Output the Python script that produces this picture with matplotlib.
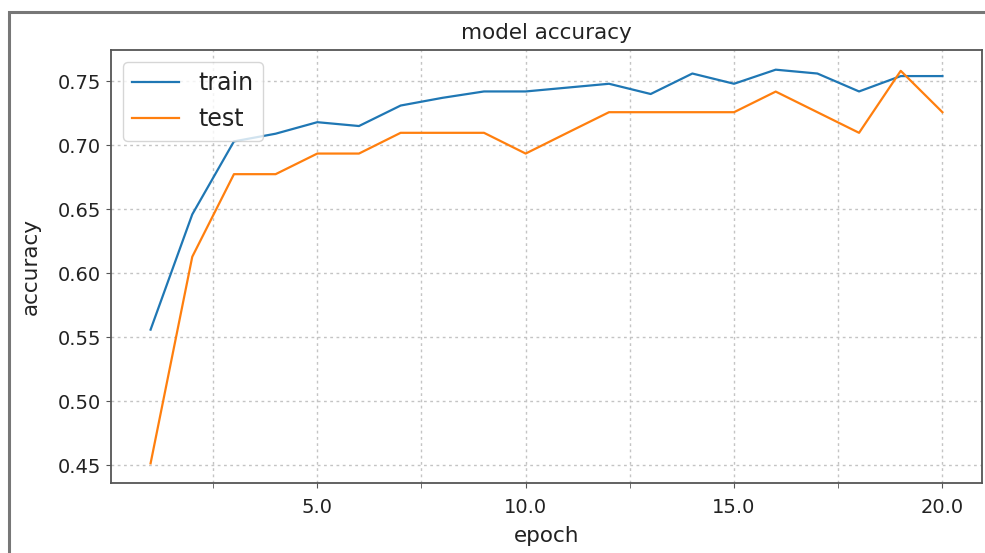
import matplotlib
matplotlib.use("Agg")
import matplotlib.pyplot as plt
from matplotlib.ticker import MultipleLocator, FormatStrFormatter
from matplotlib.patches import Rectangle

epochs = list(range(1, 21))
train_acc = [0.556, 0.646, 0.703, 0.709, 0.718, 0.715, 0.731, 0.737, 0.742, 0.742,
             0.745, 0.748, 0.740, 0.756, 0.748, 0.759, 0.756, 0.742, 0.754, 0.754]
test_acc = [0.4516, 0.6129, 0.6774, 0.6774, 0.6935, 0.6935, 0.7097, 0.7097, 0.7097, 0.6935,
            0.7097, 0.7258, 0.7258, 0.7258, 0.7258, 0.7419, 0.7258, 0.7097, 0.7581, 0.7258]
series_names = ["train", "test"]

fig = plt.figure(figsize=(9.85, 5.53), dpi=100)
ax = fig.add_axes([111/985, 1 - 483/553, (982 - 111)/985, (483 - 50)/553])

ax.plot(epochs, train_acc, color="#1f77b4", lw=1.6, label=series_names[0])
ax.plot(epochs, test_acc, color="#ff7f0e", lw=1.6, label=series_names[1])

ax.xaxis.set_major_locator(MultipleLocator(5))
ax.xaxis.set_minor_locator(MultipleLocator(2.5))
ax.xaxis.set_major_formatter(FormatStrFormatter("%.1f"))
ax.yaxis.set_major_locator(MultipleLocator(0.05))
ax.yaxis.set_major_formatter(FormatStrFormatter("%.2f"))

ax.grid(True, which="both", axis="x", linestyle=(0, (2, 2.5)), color="#c4c4c4", lw=1.0)
ax.grid(True, which="major", axis="y", linestyle=(0, (2, 2.5)), color="#c4c4c4", lw=1.0)

ax.tick_params(axis="both", which="major", labelsize=14, color="#555555", labelcolor="#222222")
ax.tick_params(axis="x", which="major", pad=7)
ax.tick_params(axis="x", which="minor", length=3.5, color="#555555")
for s in ax.spines.values():
    s.set_color("#555555")
    s.set_linewidth(1.3)

ax.set_title("model accuracy", fontsize=15.5, pad=8, color="#222222")
ax.set_xlabel("epoch", fontsize=15.5, labelpad=7, color="#222222")
ax.set_ylabel("accuracy", fontsize=15.5, labelpad=12, color="#222222")
leg = ax.legend(loc="upper left", fontsize=17, handlelength=2.0, borderaxespad=0.5)
for t in leg.get_texts():
    t.set_color("#222222")

fig.patches.append(Rectangle((9/985, -0.05), 1.1, 1 - 12/553 + 0.05, transform=fig.transFigure,
                             fill=False, edgecolor="#777777", lw=2.2))

fig.savefig("out.png", dpi=100)
